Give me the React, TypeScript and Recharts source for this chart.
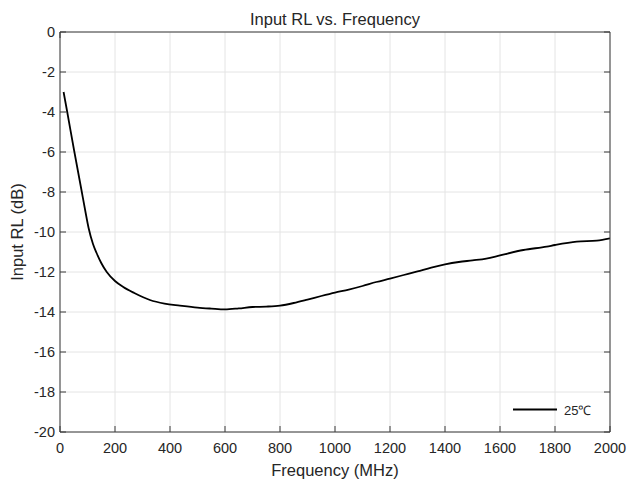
import React from 'react';
import { LineChart, Line, XAxis, YAxis, CartesianGrid, Legend, Label } from 'recharts';

const frequencyMHz = [
  13, 25, 51, 78, 92, 104, 120, 133, 150, 170, 200, 230, 270, 327, 380, 436, 500, 550,
  600, 650, 700, 750, 800, 850, 900, 950, 1000, 1050, 1100, 1150, 1200, 1250, 1300, 1350, 1400,
  1450, 1500, 1550, 1600, 1685, 1770, 1800, 1879, 1952, 2000,
];
const inputRL25C = [
  -3.0, -3.9, -5.9, -7.9, -8.95, -9.8, -10.6, -11.05, -11.55, -12.0, -12.45, -12.75, -13.05, -13.4,
  -13.58, -13.68, -13.78, -13.83, -13.87, -13.82, -13.75, -13.73, -13.68, -13.55,
  -13.38, -13.2, -13.03, -12.88, -12.7, -12.5, -12.33, -12.15, -11.97, -11.78, -11.62, -11.5,
  -11.42, -11.33, -11.17, -10.9, -10.73, -10.65, -10.48, -10.43, -10.32,
];
const xTicks = [0, 200, 400, 600, 800, 1000, 1200, 1400, 1600, 1800, 2000];
const yTicks = [0, -2, -4, -6, -8, -10, -12, -14, -16, -18, -20];
const seriesName = '25℃';
const chartTitle = 'Input RL vs. Frequency';
const xAxisTitle = 'Frequency (MHz)';
const yAxisTitle = 'Input RL (dB)';

const data = frequencyMHz.map((f, i) => ({ f, rl: inputRL25C[i] }));

const FONT = '"Liberation Sans", Arial, Helvetica, sans-serif';
const AXIS = '#3a3a3a';
const TEXT = '#262626';

const renderLegend = (props: any) => {
  const payload = props.payload || [];
  return (
    <div style={{ fontFamily: FONT }}>
      {payload.map((p: any, i: number) => (
        <div key={i} style={{ display: 'flex', alignItems: 'center', height: 19 }}>
          <svg width={44} height={19} style={{ display: 'block' }}>
            <line x1={0} y1={9.5} x2={44} y2={9.5} stroke={p.color} strokeWidth={1.8} />
          </svg>
          <span style={{ marginLeft: 7, fontSize: 13, color: TEXT }}>{p.value}</span>
        </div>
      ))}
    </div>
  );
};

export default function App() {
  return (
    <div style={{ position: 'absolute', left: 0, top: 0, width: 628, height: 481, background: '#fff' }}>
      <LineChart width={628} height={481} data={data} margin={{ top: 0, right: 0, bottom: 0, left: 0 }}>
        <CartesianGrid stroke="#e4e4e4" strokeWidth={1} />
        <XAxis
          dataKey="f"
          type="number"
          domain={[0, 2000]}
          ticks={xTicks}
          allowDataOverflow
          height={49}
          tickSize={-6}
          tickMargin={17}
          stroke={AXIS}
          tick={{ fill: TEXT, fontSize: 14.5, fontFamily: FONT }}
        >
          <Label
            content={(p: any) => {
              const vb = p.viewBox;
              return (
                <text x={vb.x + vb.width / 2} y={vb.y + 44} textAnchor="middle" fontSize={16.5} fontFamily={FONT} fill={TEXT}>
                  {xAxisTitle}
                </text>
              );
            }}
          />
        </XAxis>
        <XAxis
          xAxisId="top"
          orientation="top"
          type="number"
          domain={[0, 2000]}
          ticks={xTicks}
          allowDataOverflow
          height={32}
          tickSize={-6}
          stroke={AXIS}
          tickFormatter={() => ''}
        >
          <Label
            content={(p: any) => {
              const vb = p.viewBox;
              return (
                <text x={vb.x + vb.width / 2} y={vb.y + 25} textAnchor="middle" fontSize={16.5} fontFamily={FONT} fill={TEXT}>
                  {chartTitle}
                </text>
              );
            }}
          />
        </XAxis>
        <YAxis
          type="number"
          domain={[-20, 0]}
          ticks={yTicks}
          allowDataOverflow
          width={60}
          tickSize={-6}
          tickMargin={11}
          stroke={AXIS}
          tick={{ fill: TEXT, fontSize: 14.5, fontFamily: FONT }}
        >
          <Label
            content={(p: any) => {
              const vb = p.viewBox;
              const cx = vb.x + 23;
              const cy = vb.y + vb.height / 2;
              return (
                <text x={cx} y={cy} transform={`rotate(-90, ${cx}, ${cy})`} textAnchor="middle" fontSize={16.5} fontFamily={FONT} fill={TEXT}>
                  {yAxisTitle}
                </text>
              );
            }}
          />
        </YAxis>
        <YAxis
          yAxisId="right"
          orientation="right"
          type="number"
          domain={[-20, 0]}
          ticks={yTicks}
          allowDataOverflow
          width={18}
          tickSize={-6}
          stroke={AXIS}
          tickFormatter={() => ''}
        />
        <Legend
          content={renderLegend}
          layout="vertical"
          align="center"
          verticalAlign="middle"
          wrapperStyle={{ position: 'absolute', left: 513, top: 400, width: 'auto', height: 'auto' }}
        />
        <Line
          type="monotone"
          dataKey="rl"
          name={seriesName}
          stroke="#000"
          strokeWidth={1.8}
          dot={false}
          isAnimationActive={false}
        />
      </LineChart>
    </div>
  );
}
